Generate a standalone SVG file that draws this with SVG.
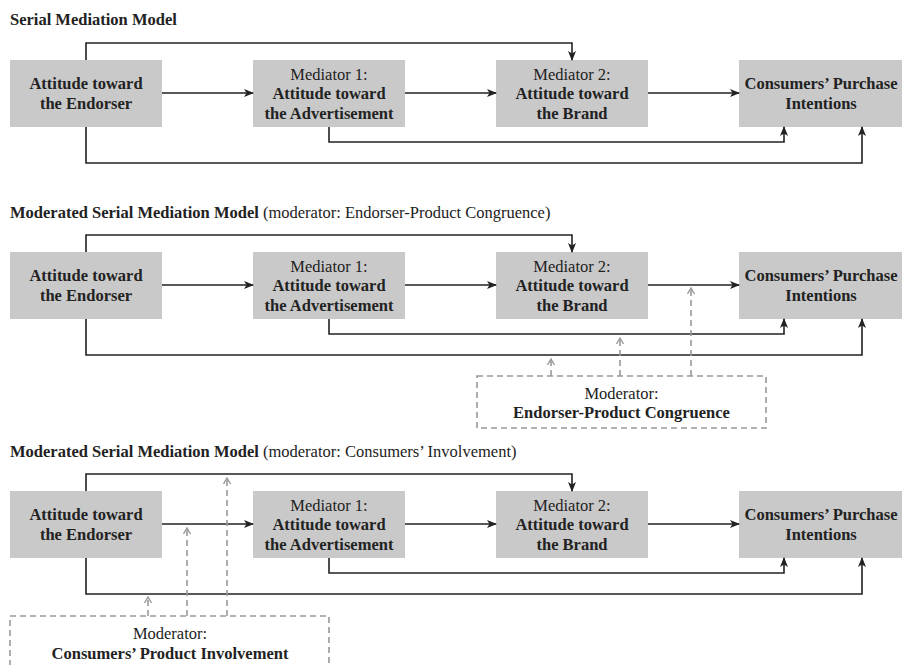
<svg xmlns="http://www.w3.org/2000/svg" width="903" height="665" viewBox="0 0 903 665">
<defs>
<style>
text{font-family:"Liberation Serif","Times New Roman",serif;font-size:16.5px;fill:#222}
.b{font-weight:bold}
.t{font-weight:bold}
.c{text-anchor:middle}
.box{fill:#c9c9c9}
.ln{fill:none;stroke:#222;stroke-width:1.6}
.dl{fill:none;stroke:#999;stroke-width:1.6;stroke-dasharray:6 4}
.mod{fill:none;stroke:#999;stroke-width:1.6;stroke-dasharray:6 4}
</style>
<marker id="ah" viewBox="0 0 10 8" refX="9" refY="4" markerWidth="10" markerHeight="8" markerUnits="userSpaceOnUse" orient="auto">
<path d="M0,0 L10,4 L0,8 L2.5,4 z" fill="#222"/>
</marker>
<marker id="oh" viewBox="0 0 8 8" refX="7" refY="4" markerWidth="8" markerHeight="8" markerUnits="userSpaceOnUse" orient="auto">
<path d="M1,0.5 L7,4 L1,7.5" fill="none" stroke="#999" stroke-width="1.4"/>
</marker>
</defs>

<!-- Panel 1 -->
<text x="10" y="25" class="t">Serial Mediation Model</text>
<g id="p1-endorser"><rect class="box" x="10" y="60" width="152" height="67"/><text class="b c" x="86" y="89">Attitude toward</text><text class="b c" x="86" y="108.5">the Endorser</text></g>
<g id="p1-med1"><rect class="box" x="253" y="60" width="152" height="67"/><text class="c" x="329" y="79.5">Mediator 1:</text><text class="b c" x="329" y="99">Attitude toward</text><text class="b c" x="329" y="118.5">the Advertisement</text></g>
<g id="p1-med2"><rect class="box" x="496" y="60" width="152" height="67"/><text class="c" x="572" y="79.5">Mediator 2:</text><text class="b c" x="572" y="99">Attitude toward</text><text class="b c" x="572" y="118.5">the Brand</text></g>
<g id="p1-intent"><rect class="box" x="739" y="60" width="163" height="67"/><text class="b c" x="821" y="89">Consumers’ Purchase</text><text class="b c" x="821" y="108.5">Intentions</text></g>
<g id="p1-connectors">
<path class="ln" d="M86,60 V43 H572 V60" marker-end="url(#ah)"/>
<path class="ln" d="M162,93 H253" marker-end="url(#ah)"/>
<path class="ln" d="M405,93 H496" marker-end="url(#ah)"/>
<path class="ln" d="M648,93 H739" marker-end="url(#ah)"/>
<path class="ln" d="M329,127 V142 H784 V127" marker-end="url(#ah)"/>
<path class="ln" d="M86,127 V163 H862 V127" marker-end="url(#ah)"/>
</g>

<!-- Panel 2 -->
<text x="10" y="218"><tspan class="t">Moderated Serial Mediation Model</tspan> (moderator: Endorser-Product Congruence)</text>
<g id="p2-endorser"><rect class="box" x="10" y="252" width="152" height="67"/><text class="b c" x="86" y="281">Attitude toward</text><text class="b c" x="86" y="300.5">the Endorser</text></g>
<g id="p2-med1"><rect class="box" x="253" y="252" width="152" height="67"/><text class="c" x="329" y="271.5">Mediator 1:</text><text class="b c" x="329" y="291">Attitude toward</text><text class="b c" x="329" y="310.5">the Advertisement</text></g>
<g id="p2-med2"><rect class="box" x="496" y="252" width="152" height="67"/><text class="c" x="572" y="271.5">Mediator 2:</text><text class="b c" x="572" y="291">Attitude toward</text><text class="b c" x="572" y="310.5">the Brand</text></g>
<g id="p2-intent"><rect class="box" x="739" y="252" width="163" height="67"/><text class="b c" x="821" y="281">Consumers’ Purchase</text><text class="b c" x="821" y="300.5">Intentions</text></g>
<g id="p2-moderator"><rect class="mod" x="477" y="376" width="289" height="52"/><text class="c" x="621.5" y="399">Moderator:</text><text class="b c" x="621.5" y="418">Endorser-Product Congruence</text></g>
<g id="p2-connectors">
<path class="ln" d="M86,252 V235 H572 V252" marker-end="url(#ah)"/>
<path class="ln" d="M162,285 H253" marker-end="url(#ah)"/>
<path class="ln" d="M405,285 H496" marker-end="url(#ah)"/>
<path class="ln" d="M648,285 H739" marker-end="url(#ah)"/>
<path class="ln" d="M329,319 V334 H784 V319" marker-end="url(#ah)"/>
<path class="ln" d="M86,319 V355 H862 V319" marker-end="url(#ah)"/>
<path class="dl" d="M551,376 V359" marker-end="url(#oh)"/>
<path class="dl" d="M620,376 V338" marker-end="url(#oh)"/>
<path class="dl" d="M691,376 V288" marker-end="url(#oh)"/>
</g>

<!-- Panel 3 -->
<text x="10" y="457"><tspan class="t">Moderated Serial Mediation Model</tspan> (moderator: Consumers’ Involvement)</text>
<g id="p3-endorser"><rect class="box" x="10" y="491" width="152" height="67"/><text class="b c" x="86" y="520">Attitude toward</text><text class="b c" x="86" y="539.5">the Endorser</text></g>
<g id="p3-med1"><rect class="box" x="253" y="491" width="152" height="67"/><text class="c" x="329" y="510.5">Mediator 1:</text><text class="b c" x="329" y="530">Attitude toward</text><text class="b c" x="329" y="549.5">the Advertisement</text></g>
<g id="p3-med2"><rect class="box" x="496" y="491" width="152" height="67"/><text class="c" x="572" y="510.5">Mediator 2:</text><text class="b c" x="572" y="530">Attitude toward</text><text class="b c" x="572" y="549.5">the Brand</text></g>
<g id="p3-intent"><rect class="box" x="739" y="491" width="163" height="67"/><text class="b c" x="821" y="520">Consumers’ Purchase</text><text class="b c" x="821" y="539.5">Intentions</text></g>
<g id="p3-moderator"><rect class="mod" x="10" y="616" width="319" height="56"/><text class="c" x="170" y="639">Moderator:</text><text class="b c" x="170" y="658.5">Consumers’ Product Involvement</text></g>
<g id="p3-connectors">
<path class="ln" d="M86,491 V474 H572 V491" marker-end="url(#ah)"/>
<path class="ln" d="M162,524 H253" marker-end="url(#ah)"/>
<path class="ln" d="M405,524 H496" marker-end="url(#ah)"/>
<path class="ln" d="M648,524 H739" marker-end="url(#ah)"/>
<path class="ln" d="M329,558 V573 H784 V558" marker-end="url(#ah)"/>
<path class="ln" d="M86,558 V594 H862 V558" marker-end="url(#ah)"/>
<path class="dl" d="M148,616 V597" marker-end="url(#oh)"/>
<path class="dl" d="M187,616 V528" marker-end="url(#oh)"/>
<path class="dl" d="M227,616 V478" marker-end="url(#oh)"/>
</g>
</svg>
